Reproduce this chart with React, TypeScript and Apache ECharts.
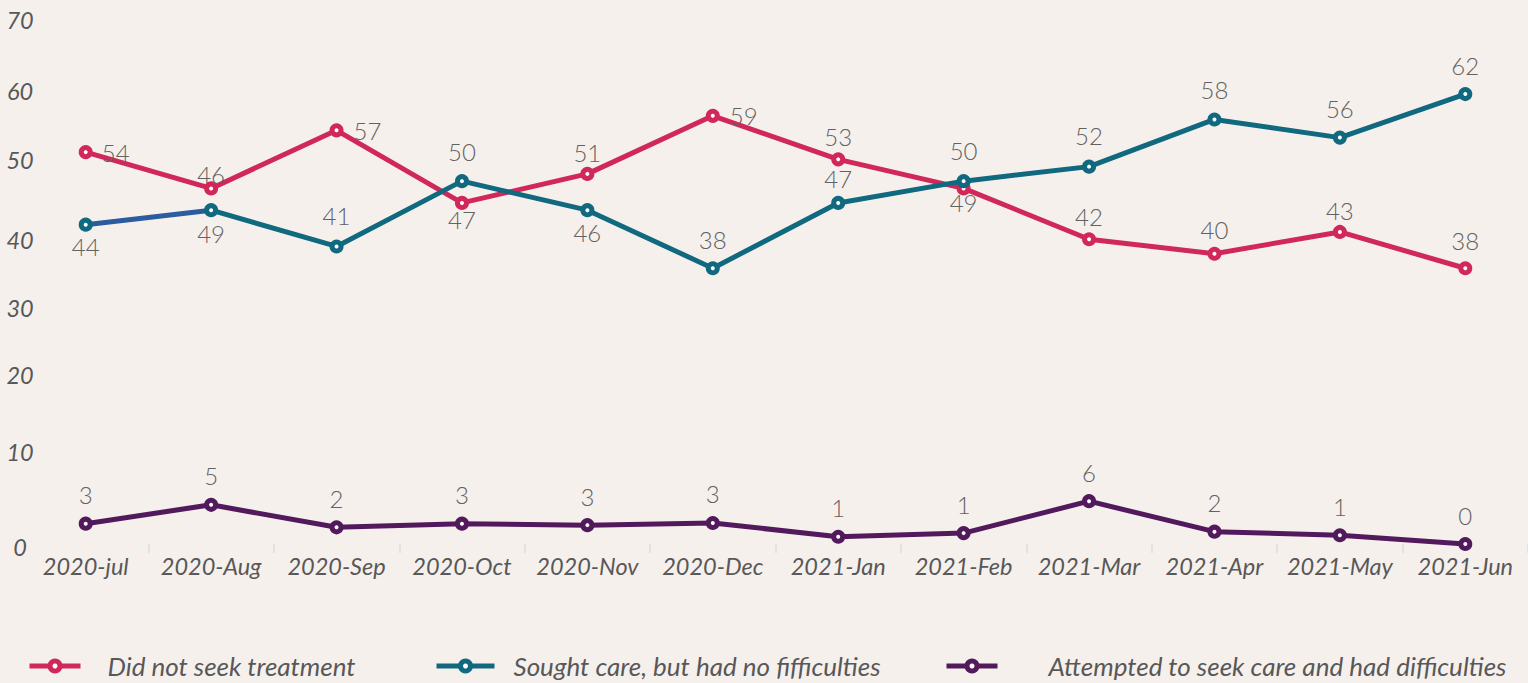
import React, { useEffect, useRef } from 'react';
import * as echarts from 'echarts';

// ---------- data ----------
const categories = ['2020-jul', '2020-Aug', '2020-Sep', '2020-Oct', '2020-Nov', '2020-Dec', '2021-Jan', '2021-Feb', '2021-Mar', '2021-Apr', '2021-May', '2021-Jun'];
const seriesNames = ['Did not seek treatment', 'Sought care, but had no fifficulties', 'Attempted to seek care and had difficulties'];

const notSeekValues = [54, 49, 57, 47, 51, 59, 53, 49, 42, 40, 43, 38];
const notSeekLabels = ['54', '46', '57', '47', '51', '59', '53', '49', '42', '40', '43', '38'];

const soughtValues = [44, 46, 41, 50, 46, 38, 47, 50, 52, 58.5, 56, 62];
const soughtLabels = ['44', '49', '41', '50', '46', '38', '47', '50', '52', '58', '56', '62'];

const difficultValues = [2.8, 5.4, 2.3, 2.8, 2.6, 2.9, 1.0, 1.5, 5.9, 1.7, 1.2, 0];
const difficultLabels = ['3', '5', '2', '3', '3', '3', '1', '1', '6', '2', '1', '0'];

const yTicks = [0, 10, 20, 30, 40, 50, 60, 70];

// ---------- styles ----------
const RED = '#d0285a';
const TEAL = '#10697f';
const PURPLE = '#521a5c';
const BLUE = '#2b5c9f';
const BG = '#f6f0ed';
const AXIS_TEXT = '#585858';
const LABEL_TEXT = '#626262';

type Pl = [string, number];
const notSeekPlace: Pl[] = [['right', 9], ['top', -5], ['right', 10], ['bottom', -2], ['top', 2], ['right', 10], ['top', 4], ['bottom', -5], ['top', 4], ['top', 5], ['top', 2], ['top', 9]];
const soughtPlace: Pl[] = [['bottom', 3], ['bottom', 4], ['top', 12], ['top', 11], ['bottom', 3], ['top', 10], ['top', 5], ['top', 12], ['top', 12], ['top', 11], ['top', 10], ['top', 10]];
const difficultPlace: Pl[] = categories.map(() => ['top', 10] as Pl);

// vertical shift of y-axis tick labels (px, positive = up)
const yLabelShift: Record<number, number> = { 0: -3, 10: 19, 20: 24, 30: 18, 40: 14, 50: 21, 60: 18, 70: 16 };

const labelFont = { fontFamily: 'Lato', fontWeight: 300 as any, fontSize: 24, color: LABEL_TEXT };

function buildData(values: number[], labels: string[], place: Pl[]) {
  return values.map((v, i) => ({
    value: v,
    label: { position: place[i][0], distance: place[i][1], formatter: labels[i] },
  }));
}

function lineSeries(name: string, color: string, values: number[], labels: string[], place: Pl[], lineColor?: any) {
  return {
    name,
    type: 'line',
    data: buildData(values, labels, place),
    symbol: 'circle',
    symbolSize: 9,
    showAllSymbol: true,
    lineStyle: { color: lineColor || color, width: 5 },
    itemStyle: { color: '#ffffff', borderColor: color, borderWidth: 5 },
    label: { show: true, ...labelFont },
    emphasis: { disabled: true },
  };
}

function legendFor(name: string, color: string, left: number, width: number, gap: number) {
  return {
    data: [name],
    left: left - 8,
    top: 648,
    itemWidth: width,
    itemHeight: 12.5,
    orient: 'horizontal',
    selectedMode: false,
    lineStyle: { color, width: 5 },
    itemStyle: { color: '#ffffff', borderColor: color, borderWidth: 5 },
    textStyle: { fontFamily: 'Lato', fontStyle: 'italic', fontSize: 26, color: AXIS_TEXT, padding: [0, 0, 0, gap] },
  };
}

export default function App() {
  const ref = useRef<HTMLDivElement>(null);
  useEffect(() => {
    if (!ref.current) return;
    const chart = echarts.init(ref.current, undefined, { renderer: 'svg' });
    const n = categories.length;
    const split = 1 / (n - 1);
    const tealGradient = new echarts.graphic.LinearGradient(0, 0, 1, 0, [
      { offset: 0, color: BLUE },
      { offset: split, color: BLUE },
      { offset: split, color: TEAL },
      { offset: 1, color: TEAL },
    ]);
    const rich: Record<string, any> = {};
    yTicks.forEach((t) => {
      const s = yLabelShift[t] || 0;
      rich['y' + t] = {
        fontFamily: 'Lato',
        fontStyle: 'italic',
        fontSize: 23.5,
        color: AXIS_TEXT,
        padding: s >= 0 ? [0, 0, 2 * s, 0] : [-2 * s, 0, 0, 0],
      };
    });
    chart.setOption({
      animation: false,
      backgroundColor: BG,
      grid: { left: 23, right: -4, top: 36, bottom: 139, containLabel: false },
      xAxis: {
        type: 'category',
        data: categories,
        boundaryGap: true,
        axisLine: { show: false },
        axisTick: {
          show: true,
          length: 9,
          interval: (index: number) => index > 0,
          lineStyle: { color: '#dfe3e6', width: 2 },
        },
        axisLabel: {
          margin: 10,
          interval: 0,
          fontFamily: 'Lato',
          fontStyle: 'italic',
          fontSize: 23.5,
          color: AXIS_TEXT,
        },
        splitLine: { show: false },
      },
      yAxis: {
        type: 'value',
        min: 0,
        max: 70,
        interval: 10,
        axisLine: { show: false },
        axisTick: { show: false },
        splitLine: { show: false },
        axisLabel: {
          margin: 3,
          align: 'center',
          formatter: (v: number) => `{y${v}|${v}}`,
          rich,
        },
      },
      legend: [
        legendFor(seriesNames[0], RED, 30, 51, 22),
        legendFor(seriesNames[1], TEAL, 437, 58, 14),
        legendFor(seriesNames[2], PURPLE, 947, 51, 46),
      ],
      series: [
        lineSeries(seriesNames[0], RED, notSeekValues, notSeekLabels, notSeekPlace),
        lineSeries(seriesNames[1], TEAL, soughtValues, soughtLabels, soughtPlace, tealGradient),
        lineSeries(seriesNames[2], PURPLE, difficultValues, difficultLabels, difficultPlace),
      ],
    });
    return () => chart.dispose();
  }, []);
  return (
    <div
      ref={ref}
      style={{ position: 'fixed', left: 0, top: 0, width: 1528, height: 683, background: BG }}
    />
  );
}
